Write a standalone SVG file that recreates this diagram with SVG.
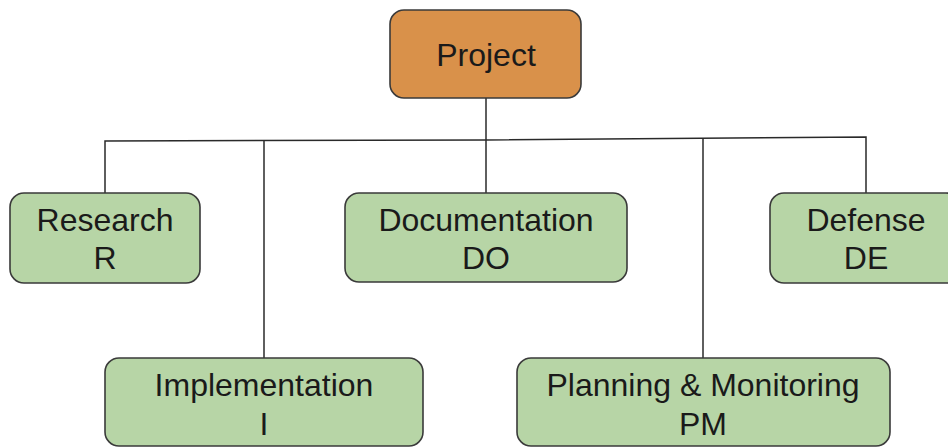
<svg xmlns="http://www.w3.org/2000/svg" width="948" height="447" viewBox="0 0 948 447">
<style>
.box{stroke:#3a3a3a;stroke-width:1.6}
.g{fill:#b7d5a6}
.o{fill:#d9914a}
.t{font-family:"Liberation Sans",Arial,sans-serif;font-size:32px;fill:#1a1a1a;text-anchor:middle}
.c{stroke:#2a2a2a;stroke-width:1.5;fill:none}
</style>
<rect width="948" height="447" fill="#ffffff"/>
<g id="connectors">
<line class="c" x1="486" y1="98" x2="486" y2="193"/>
<polyline class="c" points="105,193 105,141 486,140 866,137 866,193"/>
<line class="c" x1="264" y1="141" x2="264" y2="358"/>
<line class="c" x1="703" y1="138" x2="703" y2="358"/>
</g>
<g id="project">
<rect class="box o" x="390" y="10" width="191" height="88" rx="14"/>
<text class="t" x="486" y="66">Project</text>
</g>
<g id="research">
<rect class="box g" x="10" y="193" width="190" height="90" rx="14"/>
<text class="t" x="105" y="231">Research</text>
<text class="t" x="105" y="269">R</text>
</g>
<g id="documentation">
<rect class="box g" x="345" y="193" width="282" height="89" rx="14"/>
<text class="t" x="486" y="231">Documentation</text>
<text class="t" x="486" y="269">DO</text>
</g>
<g id="defense">
<rect class="box g" x="770" y="193" width="190" height="90" rx="14"/>
<text class="t" x="866" y="231">Defense</text>
<text class="t" x="866" y="269">DE</text>
</g>
<g id="implementation">
<rect class="box g" x="105" y="358" width="318" height="88" rx="14"/>
<text class="t" x="264" y="396">Implementation</text>
<text class="t" x="264" y="435">I</text>
</g>
<g id="planning">
<rect class="box g" x="517" y="358" width="373" height="88" rx="14"/>
<text class="t" x="703" y="396">Planning &amp; Monitoring</text>
<text class="t" x="703" y="435">PM</text>
</g>
</svg>
